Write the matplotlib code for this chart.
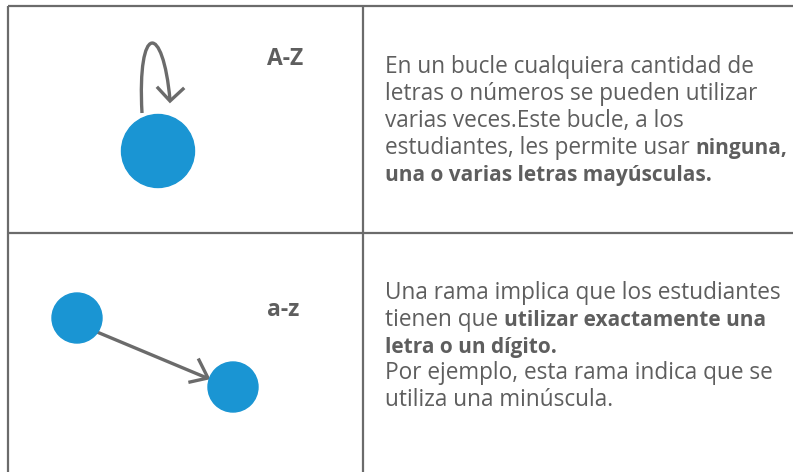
import matplotlib
matplotlib.use("Agg")
import matplotlib.pyplot as plt
from matplotlib.patches import Circle, PathPatch
from matplotlib.path import Path

# ---- content ----
labels = ["A-Z", "a-z"]
top_lines = [
    [("En un bucle cualquiera cantidad de", False)],
    [("letras o números se pueden utilizar", False)],
    [("varias veces.Este bucle, a los", False)],
    [("estudiantes, les permite usar ", False), ("ninguna,", True)],
    [("una o varias letras mayúsculas.", True)],
]
bottom_lines = [
    [("Una rama implica que los estudiantes", False)],
    [("tienen que ", False), ("utilizar exactamente una", True)],
    [("letra o un dígito.", True)],
    [("Por ejemplo, esta rama indica que se", False)],
    [("utiliza una minúscula.", False)],
]

W, H = 794, 472
TEXT = "#5e5e5e"
LINE = "#6b6b6b"
BLUE = "#1a95d3"
FONT = "Open Sans"
FS_N = 16.3
FS_B = 15.0

fig = plt.figure(figsize=(W / 100, H / 100), dpi=100)
ax = fig.add_axes([0, 0, 1, 1])
ax.set_xlim(0, W)
ax.set_ylim(H, 0)
ax.axis("off")

# table grid
ax.plot([8, 793], [6, 6], color=LINE, lw=1.6, solid_capstyle="butt")
ax.plot([8, 793], [233, 233], color=LINE, lw=1.6, solid_capstyle="butt")
ax.plot([8, 8], [6, H], color=LINE, lw=1.6, solid_capstyle="butt")
ax.plot([363, 363], [6, H], color=LINE, lw=1.6, solid_capstyle="butt")

# top cell: loop
ax.add_patch(Circle((158, 151), 36.5, color=BLUE, zorder=3))
loop = Path([(142, 113), (137, 22), (163, 22), (170, 100)],
            [Path.MOVETO, Path.CURVE4, Path.CURVE4, Path.CURVE4])
ax.add_patch(PathPatch(loop, fill=False, edgecolor=LINE, lw=2.4, capstyle="butt"))
ax.plot([158, 170, 183], [88, 101, 89], color=LINE, lw=2.4, solid_joinstyle="miter")

# bottom cell: branch
ax.add_patch(Circle((77, 318), 25, color=BLUE, zorder=3))
ax.add_patch(Circle((233, 387), 25, color=BLUE, zorder=3))
ax.plot([97, 207], [332, 378], color=LINE, lw=2.4, solid_capstyle="butt")
ax.plot([199, 208, 190], [360, 378, 382], color=LINE, lw=2.4, solid_joinstyle="miter")

# labels
ax.text(267, 65, labels[0], fontsize=16.5, fontweight="bold", color=TEXT,
        family=FONT, va="baseline", ha="left")
ax.text(267, 316, labels[1], fontsize=16.5, fontweight="bold", color=TEXT,
        family=FONT, va="baseline", ha="left")

fig.canvas.draw()
renderer = fig.canvas.get_renderer()


def draw_lines(lines, x0, y0, dy):
    for i, runs in enumerate(lines):
        x = x0
        y = y0 + i * dy
        for txt, bold in runs:
            t = ax.text(x, y, txt, fontsize=FS_B if bold else FS_N, color=TEXT,
                        family=FONT, fontweight="bold" if bold else "normal",
                        va="baseline", ha="left")
            bb = t.get_window_extent(renderer=renderer)
            x += bb.width


draw_lines(top_lines, 385, 73, 27)
draw_lines(bottom_lines, 385, 299, 26.8)

fig.savefig("out.png", dpi=100)
